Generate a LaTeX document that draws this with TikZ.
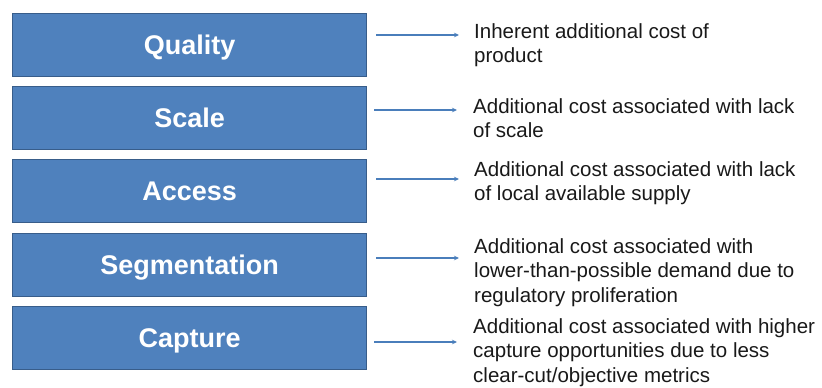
\documentclass[tikz,border=0pt]{standalone}
\usepackage{fontspec}
\setmainfont{Liberation Sans}
\usetikzlibrary{arrows.meta}
\definecolor{boxfill}{HTML}{4F81BD}
\definecolor{boxline}{HTML}{385D8A}
\definecolor{arrcol}{HTML}{4A7EBB}
\begin{document}
\begin{tikzpicture}[x=1pt,y=-1pt,
  catbox/.style={draw=boxline,line width=1.3pt,fill=boxfill,minimum width=354pt,minimum height=63pt,inner sep=0pt,text height=19.5pt,text depth=0pt,anchor=north west,text=white,font=\fontsize{27}{30}\selectfont\bfseries},
  desc/.style={anchor=north west,inner sep=0pt,align=left,font=\fontsize{20.5}{24.5}\selectfont,text=black!90},
  arr/.style={draw=arrcol,line width=1.4pt,-{Stealth[length=5pt,width=4.5pt]}}]
\useasboundingbox (0,0) rectangle (822,388);
\node[catbox] (q) at (12,13) {Quality};
\node[catbox] (s) at (12,86) {Scale};
\node[catbox] (a) at (12,159) {Access};
\node[catbox] (g) at (12,233) {Segmentation};
\node[catbox] (c) at (12,306) {Capture};
\node[desc] (qt) at (474,23) {Inherent additional cost of\\product};
\node[desc] (st) at (473,98) {Additional cost associated with lack\\of scale};
\node[desc] (at) at (474,161) {Additional cost associated with lack\\of local available supply};
\node[desc] (gt) at (474,238) {Additional cost associated with\\lower-than-possible demand due to\\regulatory proliferation};
\node[desc] (ct) at (473,318) {Additional cost associated with higher\\capture opportunities due to less\\clear-cut/objective metrics};
\coordinate (qs) at (376,35); \coordinate (qe) at (459,35);
\coordinate (ss) at (374,110); \coordinate (se) at (457,110);
\coordinate (as) at (376,179); \coordinate (ae) at (459,179);
\coordinate (gs) at (376,258); \coordinate (ge) at (459,258);
\coordinate (cs) at (374,342); \coordinate (ce) at (457,342);
\draw[arr] (qs) -- (qe);
\draw[arr] (ss) -- (se);
\draw[arr] (as) -- (ae);
\draw[arr] (gs) -- (ge);
\draw[arr] (cs) -- (ce);
\end{tikzpicture}
\end{document}
